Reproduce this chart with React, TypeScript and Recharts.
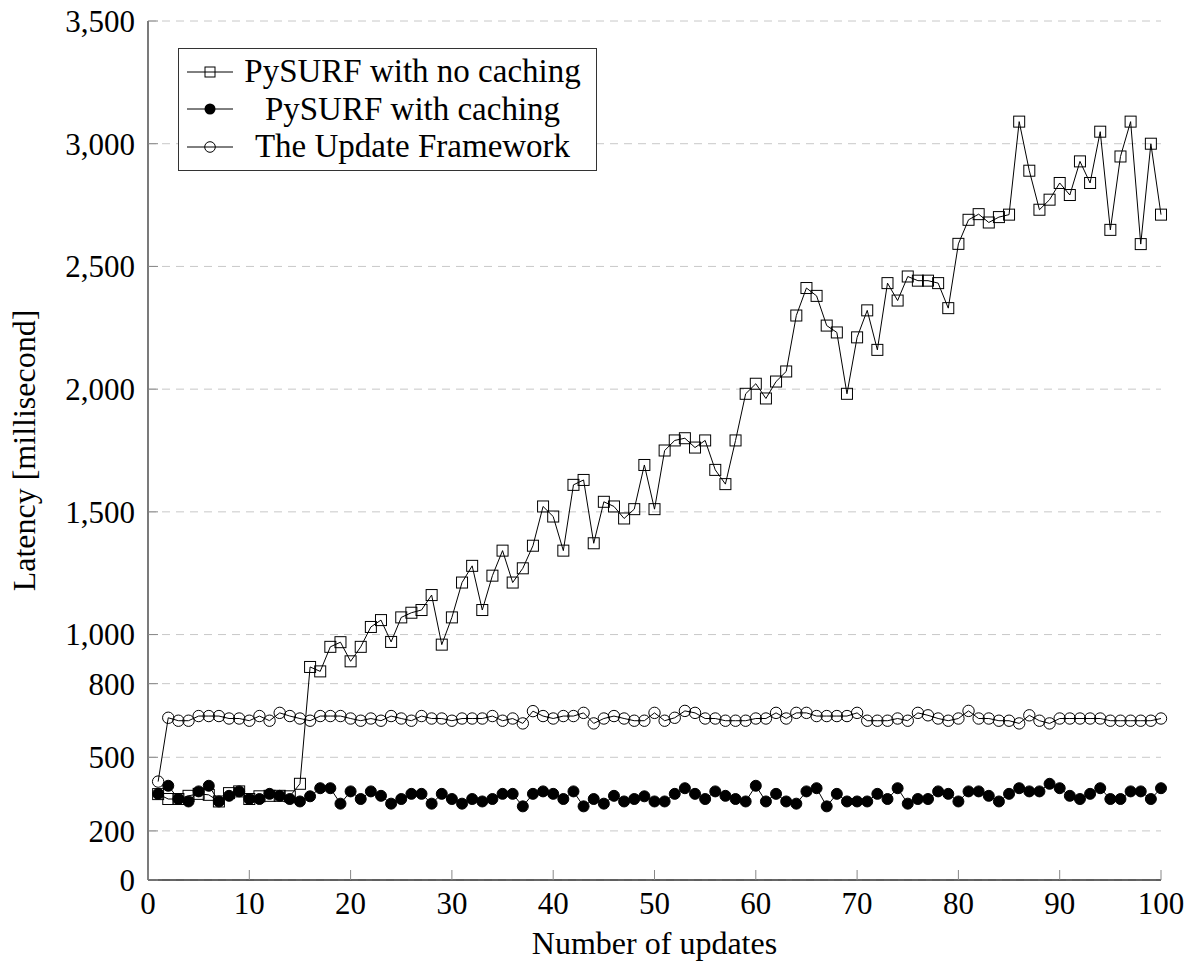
import { LineChart, Line, XAxis, YAxis, CartesianGrid, Legend, Label } from 'recharts';

// x = update number 1..100
const updates = Array.from({ length: 100 }, (_, i) => i + 1);

const noCaching = [
  350, 330, 330, 343, 351, 347, 320, 354, 361, 330,
  341, 343, 343, 341, 392, 868, 850, 950, 969, 891,
  950, 1031, 1059, 970, 1070, 1089, 1100, 1161, 959, 1070,
  1212, 1280, 1100, 1240, 1342, 1212, 1270, 1362, 1522, 1481,
  1342, 1610, 1630, 1372, 1541, 1522, 1473, 1511, 1691, 1511,
  1750, 1791, 1800, 1762, 1791, 1671, 1613, 1791, 1981, 2022,
  1962, 2031, 2072, 2300, 2412, 2380, 2259, 2231, 1981, 2211,
  2321, 2160, 2432, 2361, 2459, 2442, 2442, 2432, 2330, 2592,
  2690, 2713, 2679, 2701, 2711, 3090, 2890, 2731, 2772, 2840,
  2791, 2928, 2840, 3049, 2649, 2948, 3090, 2591, 3000, 2711
];

const withCaching = [
  351, 384, 330, 320, 361, 384, 320, 343, 361, 330,
  330, 351, 343, 330, 320, 341, 374, 374, 311, 361,
  330, 361, 343, 311, 330, 351, 351, 311, 351, 330,
  311, 330, 320, 330, 351, 351, 300, 351, 361, 351,
  330, 361, 300, 330, 311, 343, 320, 330, 341, 320,
  320, 351, 374, 351, 330, 361, 343, 330, 320, 384,
  320, 351, 320, 311, 361, 374, 300, 351, 320, 320,
  320, 351, 330, 374, 311, 330, 330, 361, 351, 320,
  361, 361, 343, 320, 351, 374, 361, 361, 392, 374,
  343, 330, 351, 374, 330, 330, 361, 361, 330, 374
];

const tuf = [
  401, 661, 649, 649, 668, 668, 668, 658, 658, 649,
  668, 649, 681, 668, 658, 649, 668, 668, 668, 658,
  649, 658, 649, 668, 658, 649, 668, 658, 658, 649,
  658, 658, 658, 668, 649, 658, 638, 688, 668, 658,
  668, 668, 681, 638, 658, 668, 658, 649, 649, 681,
  649, 661, 689, 681, 658, 658, 649, 649, 649, 658,
  658, 681, 658, 681, 681, 668, 668, 668, 668, 681,
  649, 649, 649, 658, 649, 681, 671, 658, 649, 658,
  689, 658, 658, 649, 649, 638, 671, 649, 638, 658,
  658, 658, 658, 658, 649, 649, 649, 649, 649, 658
];

const xTicks = [0, 10, 20, 30, 40, 50, 60, 70, 80, 90, 100];
const yTicks = [0, 200, 500, 800, 1000, 1500, 2000, 2500, 3000, 3500];

const seriesOrder = ['noCaching', 'caching', 'tuf'];
const seriesNames = {
  noCaching: 'PySURF with no caching',
  caching: 'PySURF with caching',
  tuf: 'The Update Framework'
};

const data = updates.map((n, i) => ({
  n,
  noCaching: noCaching[i],
  caching: withCaching[i],
  tuf: tuf[i]
}));

const FONT = '"Liberation Serif", "Times New Roman", serif';
const TICK_COLOR = '#888';
const FRAME = { stroke: '#333', strokeWidth: 1.3 };

const BottomTick = (props: any) => {
  const { x, y, payload } = props;
  return (
    <g>
      <line x1={x} y1={y} x2={x} y2={y - 10} stroke={TICK_COLOR} />
      <text x={x} y={y + 34} textAnchor="middle" fontSize={31} fontFamily={FONT} fill="#000">
        {payload.value}
      </text>
    </g>
  );
};

const TopTick = (props: any) => {
  const { x, y } = props;
  return <line x1={x} y1={y} x2={x} y2={y + 10} stroke={TICK_COLOR} />;
};

const LeftTick = (props: any) => {
  const { x, y, payload } = props;
  return (
    <g>
      <line x1={x} y1={y} x2={x + 10} y2={y} stroke={TICK_COLOR} />
      <text x={x - 13} y={y} dy="0.35em" textAnchor="end" fontSize={31} fontFamily={FONT} fill="#000">
        {Number(payload.value).toLocaleString('en-US')}
      </text>
    </g>
  );
};

const RightTick = (props: any) => {
  const { x, y } = props;
  return <line x1={x} y1={y} x2={x - 10} y2={y} stroke={TICK_COLOR} />;
};

const SquareDot = (props: any) => {
  const { cx, cy, index } = props;
  if (cx == null || cy == null) return <g key={`sq-${index}`} />;
  return (
    <rect key={`sq-${index}`} x={cx - 5.5} y={cy - 5.5} width={11} height={11}
      fill="none" stroke="#000" strokeWidth={1} />
  );
};

const FilledDot = (props: any) => {
  const { cx, cy, index } = props;
  if (cx == null || cy == null) return <g key={`fd-${index}`} />;
  return <circle key={`fd-${index}`} cx={cx} cy={cy} r={5.5} fill="#000" stroke="#000" />;
};

const OpenDot = (props: any) => {
  const { cx, cy, index } = props;
  if (cx == null || cy == null) return <g key={`od-${index}`} />;
  return <circle key={`od-${index}`} cx={cx} cy={cy} r={5.7} fill="none" stroke="#000" strokeWidth={1} />;
};

const legendIcon = (key: string) => {
  const cx = 23;
  const cy = 8;
  let mark = null;
  if (key === 'noCaching') {
    mark = <rect x={cx - 5} y={cy - 5} width={10} height={10} fill="none" stroke="#000" />;
  } else if (key === 'caching') {
    mark = <circle cx={cx} cy={cy} r={5.5} fill="#000" />;
  } else {
    mark = <circle cx={cx} cy={cy} r={5.3} fill="none" stroke="#000" />;
  }
  return (
    <svg width={46} height={16} style={{ display: 'block', flex: 'none' }}>
      <line x1={0} y1={cy} x2={46} y2={cy} stroke="#000" />
      {mark}
    </svg>
  );
};

const LegendBox = (props: any) => {
  const items = [...(props.payload || [])].sort(
    (a: any, b: any) => seriesOrder.indexOf(a.dataKey) - seriesOrder.indexOf(b.dataKey)
  );
  return (
    <div
      style={{
        boxSizing: 'border-box',
        width: 419,
        height: 123,
        border: '1.3px solid #333',
        background: '#fff',
        padding: '4px 8px 4px 8px',
        fontFamily: FONT,
        fontSize: 33,
        color: '#000'
      }}
    >
      {items.map((entry: any) => (
        <div key={entry.dataKey} style={{ display: 'flex', alignItems: 'center', height: 37.5 }}>
          {legendIcon(entry.dataKey)}
          <span style={{ flex: 1, textAlign: 'center', marginLeft: 4, lineHeight: '37.5px', whiteSpace: 'nowrap' }}>
            {entry.value}
          </span>
        </div>
      ))}
    </div>
  );
};

export default function App() {
  return (
    <div style={{ position: 'absolute', left: 0, top: 0, width: 1193, height: 966, background: '#fff' }}>
      <LineChart width={1193} height={966} data={data} margin={{ top: 21, right: 32, bottom: 0, left: 0 }}>
        <CartesianGrid vertical={false} stroke="#c8c8c8" strokeDasharray="8 6" />
        <XAxis
          dataKey="n"
          type="number"
          domain={[0, 100]}
          ticks={xTicks}
          interval={0}
          height={86}
          tickSize={0}
          tickMargin={0}
          tickLine={false}
          tick={BottomTick}
          axisLine={FRAME}
        >
          <Label
            content={(p: any) => {
              const vb = p.viewBox || { x: 148, y: 880, width: 1013, height: 86 };
              return (
                <text x={vb.x + vb.width / 2} y={vb.y + 74} textAnchor="middle" fontSize={32} fontFamily={FONT} fill="#000">
                  Number of updates
                </text>
              );
            }}
          />
        </XAxis>
        <XAxis
          xAxisId="top"
          orientation="top"
          type="number"
          domain={[0, 100]}
          ticks={xTicks}
          interval={0}
          height={0}
          tickSize={0}
          tickMargin={0}
          tickLine={false}
          tick={TopTick}
          axisLine={FRAME}
        />
        <YAxis
          type="number"
          domain={[0, 3500]}
          ticks={yTicks}
          interval={0}
          width={148}
          tickSize={0}
          tickMargin={0}
          tickLine={false}
          tick={LeftTick}
          axisLine={FRAME}
        >
          <Label
            content={(p: any) => {
              const vb = p.viewBox || { x: 0, y: 21, width: 148, height: 859 };
              const cx = vb.x + 35;
              const cy = vb.y + vb.height / 2;
              return (
                <text x={cx} y={cy} transform={`rotate(-90 ${cx} ${cy})`} textAnchor="middle" fontSize={32} fontFamily={FONT} fill="#000">
                  Latency [millisecond]
                </text>
              );
            }}
          />
        </YAxis>
        <YAxis
          yAxisId="right"
          orientation="right"
          type="number"
          domain={[0, 3500]}
          ticks={yTicks}
          interval={0}
          width={0}
          tickSize={0}
          tickMargin={0}
          tickLine={false}
          tick={RightTick}
          axisLine={FRAME}
        />
        <Legend
          layout="horizontal"
          verticalAlign="middle"
          align="center"
          content={LegendBox}
          wrapperStyle={{ left: 178, top: 48, width: 419, height: 123 }}
        />
        <Line
          dataKey="noCaching"
          name={seriesNames.noCaching}
          stroke="#000"
          strokeWidth={1}
          dot={SquareDot}
          activeDot={false}
          isAnimationActive={false}
        />
        <Line
          dataKey="caching"
          name={seriesNames.caching}
          stroke="#000"
          strokeWidth={1}
          dot={FilledDot}
          activeDot={false}
          isAnimationActive={false}
        />
        <Line
          dataKey="tuf"
          name={seriesNames.tuf}
          stroke="#000"
          strokeWidth={1}
          dot={OpenDot}
          activeDot={false}
          isAnimationActive={false}
        />
      </LineChart>
    </div>
  );
}
